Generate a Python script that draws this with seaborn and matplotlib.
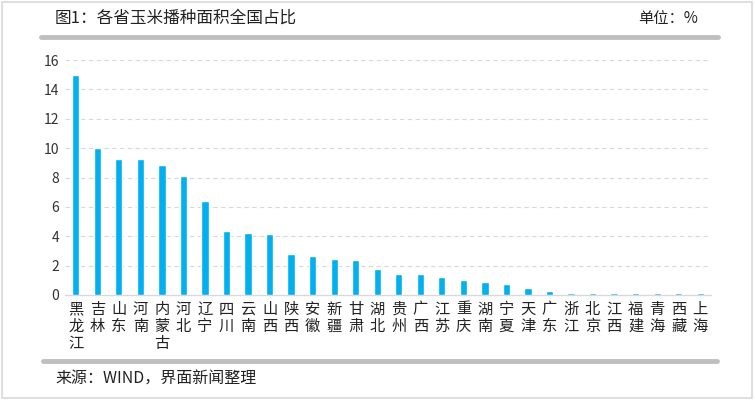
import matplotlib
matplotlib.use("Agg")
import matplotlib.pyplot as plt
import seaborn as sns
import pandas as pd
from matplotlib.lines import Line2D
from matplotlib.patches import Rectangle

provinces = ["黑龙江", "吉林", "山东", "河南", "内蒙古", "河北", "辽宁", "四川", "云南", "山西",
             "陕西", "安徽", "新疆", "甘肃", "湖北", "贵州", "广西", "江苏", "重庆", "湖南",
             "宁夏", "天津", "广东", "浙江", "北京", "江西", "福建", "青海", "西藏", "上海"]
shares = [15.0, 10.0, 9.25, 9.25, 8.88, 8.13, 6.42, 4.33, 4.24, 4.15,
          2.76, 2.67, 2.47, 2.38, 1.80, 1.44, 1.44, 1.25, 1.03, 0.87,
          0.75, 0.48, 0.30, 0.15, 0.15, 0.15, 0.15, 0.15, 0.15, 0.15]
y_ticks = [0, 2, 4, 6, 8, 10, 12, 14, 16]

sns.set_style("white")
plt.rcParams["font.family"] = ["Noto Sans CJK SC", "DejaVu Sans"]

df = pd.DataFrame({"省份": provinces, "占比": shares})

fig = plt.figure(figsize=(7.55, 4.0), dpi=100)
ax = fig.add_axes([65 / 755, 1 - 295 / 400, (711 - 65) / 755, (295 - 60) / 400])

sns.barplot(data=df, x="省份", y="占比", color="#00B0F0", width=0.34,
            saturation=1, ax=ax, zorder=3)

ax.set_ylim(0, 16)
ax.set_xlim(-0.5, len(provinces) - 0.5)
ax.set_yticks(y_ticks)
ax.set_yticklabels([str(t) for t in y_ticks], fontsize=10, color="#333333")
ax.set_xticks(range(len(provinces)))
ax.set_xticklabels(["\n".join(p) for p in provinces], fontsize=11,
                   color="#222222", linespacing=1.0)
ax.tick_params(axis="both", length=0, pad=4)
ax.set_xlabel("")
ax.set_ylabel("")

for t in y_ticks[1:]:
    ax.axhline(t, color="#D9D9D9", lw=0.8, ls=(0, (4, 3)), zorder=0)
for side in ["top", "right", "left"]:
    ax.spines[side].set_visible(False)
ax.spines["bottom"].set_color("#D9D9D9")
ax.spines["bottom"].set_linewidth(1)
ax.spines["bottom"].set_zorder(1)

# title and unit
fig.text(55 / 755, 1 - 18 / 400, "图1：各省玉米播种面积全国占比", fontsize=12,
         color="#222222", va="center", ha="left")
fig.text(698 / 755, 1 - 18 / 400, "单位：%", fontsize=11,
         color="#222222", va="center", ha="right")

# gray rules
fig.add_artist(Line2D([41 / 755, 718 / 755], [1 - 37 / 400, 1 - 37 / 400],
                      color="#BFBFBF", lw=3.5))
fig.add_artist(Line2D([43 / 755, 717 / 755], [1 - 361 / 400, 1 - 361 / 400],
                      color="#BFBFBF", lw=3.5))

# source
fig.text(55 / 755, 1 - 379 / 400, "来源：WIND，界面新闻整理", fontsize=11.5,
         color="#222222", va="center", ha="left")

# outer frame
fig.add_artist(Rectangle((0.002, 0.004), 0.994, 0.99, transform=fig.transFigure,
                         fill=False, edgecolor="#D9D9D9", lw=1.2))

fig.savefig("out.png", dpi=100)
